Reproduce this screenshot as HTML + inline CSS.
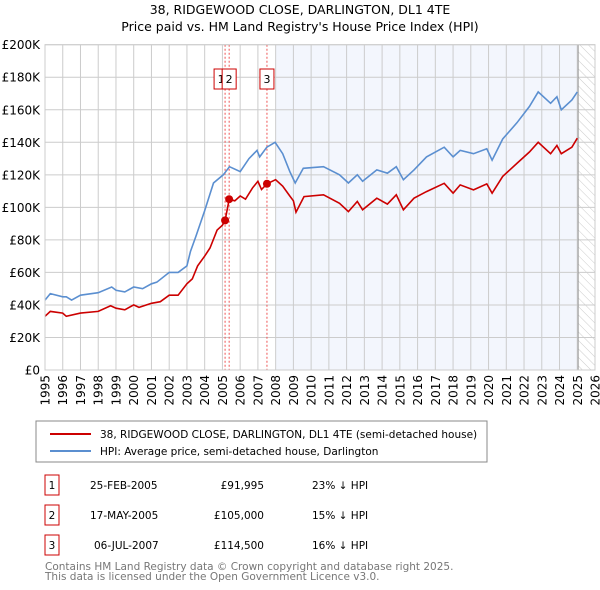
<!DOCTYPE html>
<html><head><meta charset="utf-8"><style>
body{margin:0;background:#fff;font-family:"DejaVu Sans","Liberation Sans",sans-serif;}
svg{display:block}
text{font-family:"DejaVu Sans","Liberation Sans",sans-serif;}
</style></head><body>
<svg id="c" width="600" height="590">
<defs><pattern id="hatch" width="6" height="6" patternUnits="userSpaceOnUse" patternTransform="rotate(-45)"><line x1="0" y1="0" x2="0" y2="6" stroke="#ccc" stroke-width="1"/></pattern></defs>
<text x="300" y="14" text-anchor="middle" font-size="12.5">38, RIDGEWOOD CLOSE, DARLINGTON, DL1 4TE</text>
<text x="300" y="31" text-anchor="middle" font-size="12.5">Price paid vs. HM Land Registry's House Price Index (HPI)</text>
<g id="plot"></g>
<rect x="36" y="421" width="451" height="41" fill="#fff" stroke="#888"/>
<line x1="50" y1="434" x2="91" y2="434" stroke="#cc0000" stroke-width="2"/>
<text x="100" y="438" font-size="10.5">38, RIDGEWOOD CLOSE, DARLINGTON, DL1 4TE (semi-detached house)</text>
<line x1="50" y1="451" x2="91" y2="451" stroke="#5b8fd0" stroke-width="2"/>
<text x="100" y="455" font-size="10.5">HPI: Average price, semi-detached house, Darlington</text>
<g font-size="10.5">
<rect x="45" y="475" width="14" height="20" fill="#fff" stroke="#cc0000"/><text x="52" y="489" text-anchor="middle">1</text>
<text x="90" y="489">25-FEB-2005</text><text x="264" y="489" text-anchor="end">£91,995</text><text x="312" y="489">23% ↓ HPI</text>
<rect x="45" y="505" width="14" height="20" fill="#fff" stroke="#cc0000"/><text x="52" y="519" text-anchor="middle">2</text>
<text x="90" y="519">17-MAY-2005</text><text x="264" y="519" text-anchor="end">£105,000</text><text x="312" y="519">15% ↓ HPI</text>
<rect x="45" y="535" width="14" height="20" fill="#fff" stroke="#cc0000"/><text x="52" y="549" text-anchor="middle">3</text>
<text x="94" y="549">06-JUL-2007</text><text x="264" y="549" text-anchor="end">£114,500</text><text x="312" y="549">16% ↓ HPI</text>
</g>
<text x="45" y="570" font-size="10.5" fill="#777">Contains HM Land Registry data © Crown copyright and database right 2025.</text>
<text x="45" y="580" font-size="10.5" fill="#777">This data is licensed under the Open Government Licence v3.0.</text>
</svg>
<script>
const hpiYears=[1995,1995.3,1996,1996.2,1996.5,1997,1998,1998.76,1999,1999.5,2000,2000.5,2001,2001.3,2002,2002.5,2003,2003.2,2003.5,2004,2004.5,2005.05,2005.4,2006,2006.5,2006.95,2007.1,2007.5,2007.97,2008.4,2008.8,2009.1,2009.56,2010.7,2011.6,2012.1,2012.6,2012.9,2013.7,2014.3,2014.8,2015.2,2015.8,2016.5,2017.5,2018,2018.4,2019.15,2019.9,2020.2,2020.8,2021.6,2022.3,2022.8,2023.5,2023.85,2024.1,2024.7,2025.0];
const hpiValues=[43,47,45,45,43,46,47.5,51,49,48,51,50,53,54,60,60,64,73,82,98,115,120,125,122,130,135,131,137,140,133,122,115,124,125,120,115,120,116,123,121,125,117,123,131,137,131,135,133,136,129,142,152,162,171,164,168,160,166,171];
const priceYears=[1995,1995.3,1996,1996.2,1997,1998,1998.7,1999,1999.5,2000,2000.3,2001,2001.5,2002,2002.5,2003,2003.3,2003.6,2004,2004.3,2004.7,2005.0,2005.15,2005.38,2005.7,2006,2006.3,2006.7,2007,2007.2,2007.51,2008,2008.4,2008.8,2009.0,2009.15,2009.6,2010.7,2011.6,2012.1,2012.6,2012.9,2013.7,2014.3,2014.8,2015.2,2015.8,2016.5,2017.5,2018,2018.4,2019.15,2019.9,2020.2,2020.8,2021.6,2022.3,2022.8,2023.5,2023.85,2024.1,2024.7,2025.0];
const priceValues=[33,36,35,33,35,36,39.5,38,37,40,38.5,41,42,46,46,53,56,64,70,75,86,89,92,105,104,107,105,112,116,111,114.5,117,113,107,104,97,106.6,107.7,102.5,97.4,103.6,98.5,105.6,102,107.7,98.5,105.6,109.7,114.8,108.7,113.8,110.7,114.4,108.7,119,127,134,140,133,138,133,137,142.5];
const saleLabels=["1","2","3"];
const saleYears=[2005.15,2005.38,2007.51];
const saleValues=[91.995,105,114.5];
const yTicks=[0,20,40,60,80,100,120,140,160,180,200];
const yTickLabels=["£0","£20K","£40K","£60K","£80K","£100K","£120K","£140K","£160K","£180K","£200K"];
const xTicks=[1995,1996,1997,1998,1999,2000,2001,2002,2003,2004,2005,2006,2007,2008,2009,2010,2011,2012,2013,2014,2015,2016,2017,2018,2019,2020,2021,2022,2023,2024,2025,2026];
const L=45,R=595,T=44.7,B=370,X0=1995,X1=2026,YMAX=200;
const xs=y=>L+(y-X0)/(X1-X0)*(R-L);
const ys=v=>B-v/YMAX*(B-T);
const g=document.getElementById('plot');
const NS='http://www.w3.org/2000/svg';
function mk(tag,attrs,parent){const e=document.createElementNS(NS,tag);for(const k in attrs)e.setAttribute(k,attrs[k]);(parent||g).appendChild(e);return e;}
let e;
e=mk('rect',{x:L,y:T,width:R-L,height:B-T,fill:'#fff'});
e=mk('rect',{x:xs(2008),y:T,width:xs(2025.05)-xs(2008),height:B-T,fill:'#f3f6fd'});


e=mk('rect',{x:xs(2025.05),y:T,width:R-xs(2025.05),height:B-T,fill:'url(#hatch)'});


yTicks.forEach((v,i)=>{
  const l=mk('line',{x1:L,x2:R,y1:ys(v),y2:ys(v),stroke:'#ccc'});
  
  
  const t=mk('text',{x:L-5,y:ys(v)+4.5,'text-anchor':'end','font-size':'12'});
  t.textContent=yTickLabels[i];
  
  
});
xTicks.forEach(y=>{
  const l=mk('line',{x1:xs(y),x2:xs(y),y1:T,y2:B,stroke:'#ccc'});
  
  
  const x=xs(y),yy=B+5;
  const t=mk('text',{x:x+4.5,y:yy,'text-anchor':'end','font-size':'12',transform:`rotate(-90 ${x+4.5} ${yy})`});
  t.textContent=y;
  
  
});
e=mk('line',{x1:xs(2025.05),x2:xs(2025.05),y1:T,y2:B,stroke:'#999'});


saleYears.forEach((y,i)=>{
  const l=mk('line',{x1:xs(y),x2:xs(y),y1:T,y2:B,stroke:'#e55','stroke-dasharray':'2,2'});
  
  
});
function path(xa,va,color,name){
  const d=xa.map((y,i)=>(i?'L':'M')+xs(y).toFixed(1)+','+ys(va[i]).toFixed(1)).join('');
  const p=mk('path',{d:d,fill:'none',stroke:color,'stroke-width':'1.6'});
  
  
}
path(hpiYears,hpiValues,'#5b8fd0','hpi-line');
path(priceYears,priceValues,'#cc0000','price-paid-line');
saleYears.forEach((y,i)=>{
  const c=mk('circle',{cx:xs(y),cy:ys(saleValues[i]),r:4,fill:'#cc0000'});
  
  
});
const offs=[-4,0,0];
saleYears.forEach((y,i)=>{
  const bx=xs(y)-7+offs[i];
  const r=mk('rect',{x:bx,y:69,width:14,height:20,fill:'#fff',stroke:'#cc0000'});
  
  
  const t=mk('text',{x:bx+7,y:83,'text-anchor':'middle','font-size':'11'});
  t.textContent=saleLabels[i];
  
  
});
e=mk('rect',{x:L,y:T,width:R-L,height:B-T,fill:'none',stroke:'#ccc'});
</script>
</body></html>
